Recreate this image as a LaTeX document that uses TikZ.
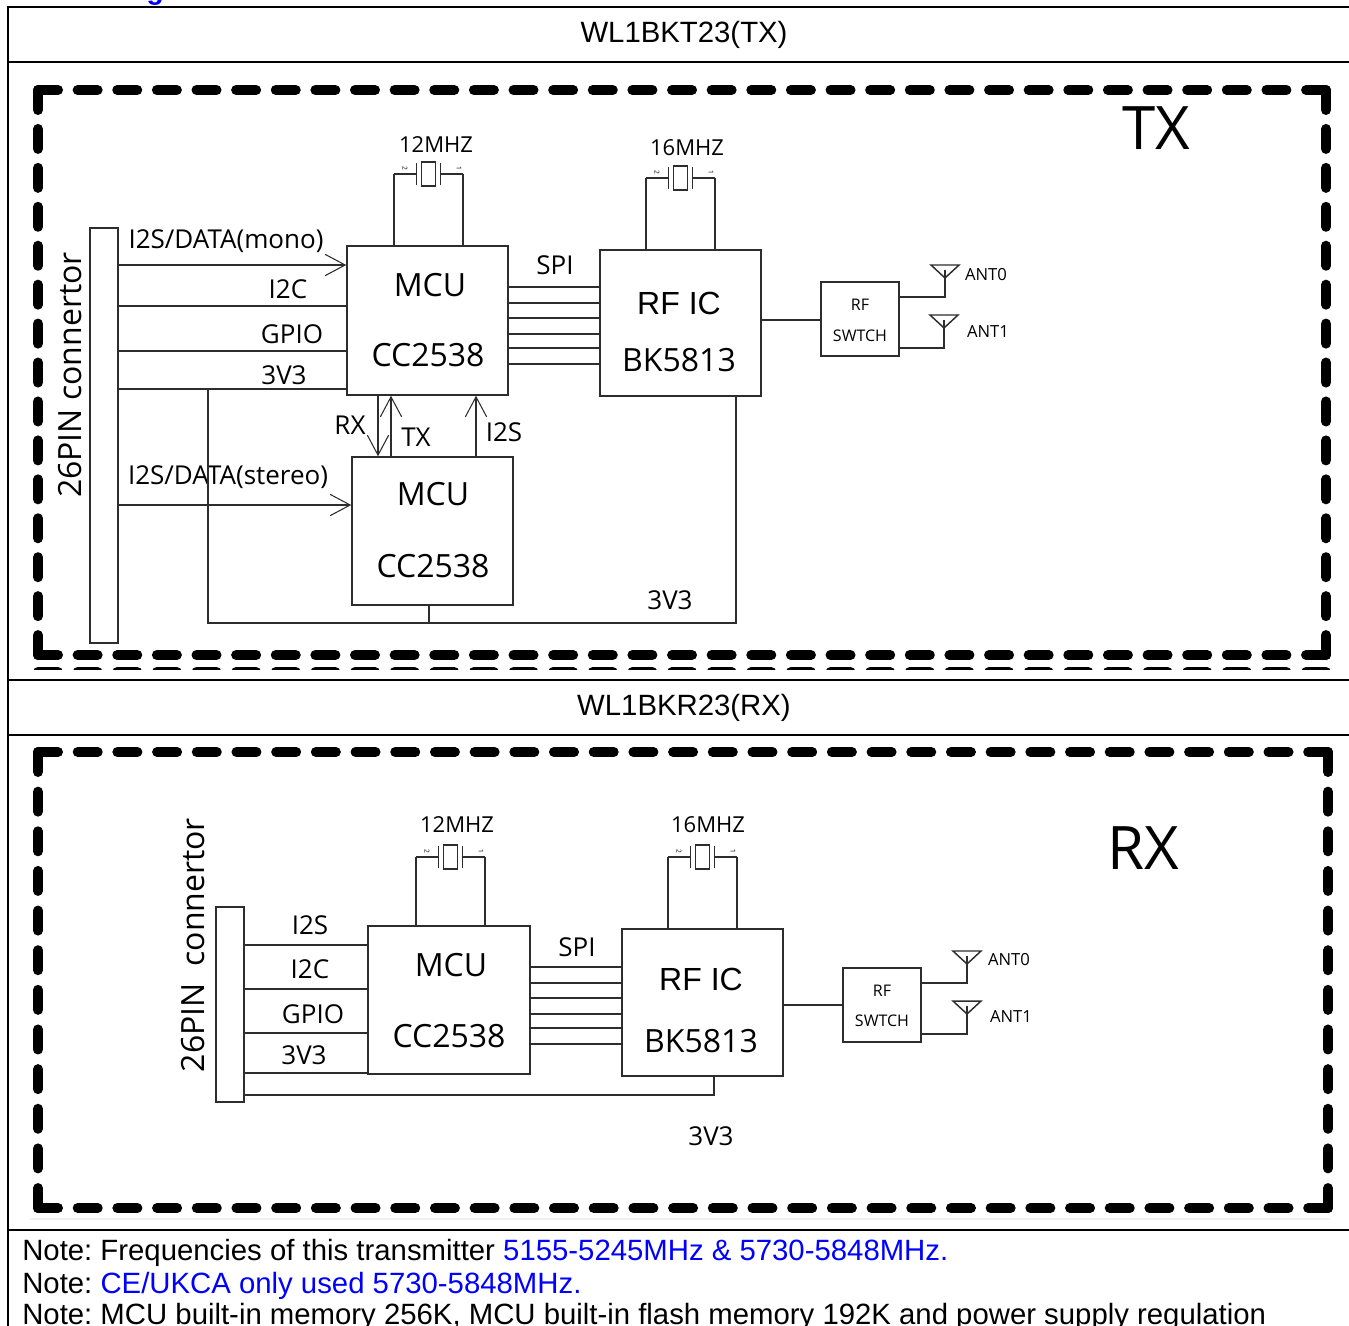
\documentclass[tikz,border=0pt]{standalone}
\usepackage{fontspec}
\setmainfont{Liberation Sans}
\newfontfamily\blkfont{Open Sans}
\usetikzlibrary{arrows.meta,positioning}
\definecolor{noteblue}{RGB}{0,0,255}
\definecolor{wire}{RGB}{45,45,45}
\frenchspacing

\tikzset{
    xtal/.pic={
        \draw[wire line] (-34.5,0) -- (-12,0) (12,0) -- (34.5,0);
        \draw[wire line] (-12,-11) -- (-12,11) (12,-11) -- (12,11);
        \draw[wire line] (-7,-12) rectangle (7,12);
        \node[pinlabel] at (-23.5,-6) {2};
        \node[pinlabel] at (30.5,-6) {1};
        \coordinate (-l) at (-34.5,0);
        \coordinate (-r) at (34.5,0);
    },
    antenna/.pic={
        \draw[wire line, line join=miter] (-14,0) -- (14,0) -- (0,13) -- cycle;
        \draw[wire line] (0,5) -- (0,13);
        \coordinate (-s) at (0,5);
    }
}

\begin{document}
\begin{tikzpicture}[
    x=0.75pt, y=-0.75pt,
    wire line/.style={draw=wire, line width=1.1pt},
    frame/.style={line width=1.6pt},
    dashbox/.style={line width=7.5pt, line cap=round, dash pattern=on 15pt off #1},
    chip/.style={wire line, rectangle, inner sep=0, minimum width=120.75pt, minimum height=#1},
    swbox/.style={wire line, rectangle, inner sep=0, minimum width=58.5pt, minimum height=55.5pt},
    conn/.style={wire line, rectangle, inner sep=0, minimum width=21pt, minimum height=#1},
    sig/.style={wire line, -{Straight Barb[length=15pt, width=16pt, line width=0.8pt]}},
    chiptext/.style={font=\blkfont\fontsize{24pt}{28pt}\selectfont, inner sep=0},
    rftext/.style={font=\fontsize{24pt}{28pt}\selectfont, inner sep=0},
    sigtext/.style={font=\blkfont\fontsize{19.5pt}{22pt}\selectfont, inner sep=0},
    xtaltext/.style={font=\blkfont\fontsize{16.5pt}{19pt}\selectfont, inner sep=0},
    swtext/.style={font=\blkfont\fontsize{12pt}{14pt}\selectfont, inner sep=0},
    anttext/.style={font=\blkfont\fontsize{12.5pt}{14pt}\selectfont, inner sep=0},
    conntext/.style={font=\blkfont\fontsize{24pt}{28pt}\selectfont, inner sep=0, rotate=90},
    bigtext/.style={font=\blkfont\fontsize{45pt}{50pt}\selectfont, inner sep=0},
    pinlabel/.style={font=\blkfont\fontsize{5pt}{6pt}\selectfont, inner sep=0, rotate=-90},
    headtext/.style={font=\fontsize{22pt}{25pt}\selectfont, inner sep=0},
    notetext/.style={font=\fontsize{22pt}{25pt}\selectfont, inner sep=0, anchor=base west}
]
\useasboundingbox (0,0) rectangle (1349,1325);

\node[anchor=base west, inner sep=0, text=noteblue, font=\bfseries\fontsize{21pt}{24pt}\selectfont] (blocktitle) at (22,-1) {Block diagram};

% table frame
\draw[frame] (8,1340) -- (8,7) -- (1360,7);
\foreach \yy in {62,680,735,1230}
    \draw[frame] (8,\yy) -- (1360,\yy);
\node[headtext] (txhead) at (684,35) {WL1BKT23(TX)};
\node[headtext] (rxhead) at (684,708) {WL1BKR23(RX)};

% dashed outlines
\draw[dashbox=14.72pt] (38,90) -- (1326,90);
\draw[dashbox=14.72pt] (38,655) -- (1326,655);
\draw[dashbox=14.2pt] (38,90) -- (38,655);
\draw[dashbox=14.2pt] (1326,90) -- (1326,655);
\begin{scope}
    \clip (0,640) rectangle (1349,669.5);
    \draw[dashbox=14.72pt] (38,672) -- (1326,672);
\end{scope}
\draw[dashbox=14.77pt] (38,752) -- (1328,752);
\draw[dashbox=14.77pt] (38,1208) -- (1328,1208);
\draw[dashbox=14.73pt] (38,752) -- (38,1208);
\draw[dashbox=14.73pt] (1328,752) -- (1328,1208);
\draw[gray!12, line width=2pt] (30,1219) -- (1330,1219);

% TX
\node[bigtext] (txbig) at (1156,128) {TX};
\node[conn=311.25pt] (txconn) at (104,435.5) {};
\node[conntext] (txconnlabel) at (70,375) {26PIN connertor};
\node[chip=111.75pt] (mcua) at (427.5,320.5) {};
\node[chiptext] (mcuaT) at (430,285) {MCU};
\node[chiptext] (mcuaB) at (428,355) {CC2538};
\node[chip=111pt] (mcub) at (432.5,531) {};
\node[chiptext] (mcubT) at (433,494) {MCU};
\node[chiptext] (mcubB) at (433,566) {CC2538};
\node[chip=109.5pt] (rfa) at (680.5,323) {};
\node[rftext] (rfaT) at (679,303) {RF IC};
\node[chiptext] (rfaB) at (679,360) {BK5813};
\node[swbox] (swa) at (860,319) {};
\node[swtext] (swaT) at (860,305) {RF};
\node[swtext] (swaB) at (860,336) {SWTCH};

\pic (x12a) at (428.5,174) {xtal};
\pic (x16a) at (680.5,178) {xtal};
\node[xtaltext] (x12aL) at (436,145) {12MHZ};
\node[xtaltext] (x16aL) at (687,148) {16MHZ};
\draw[wire line] (x12a-l) -- (x12a-l |- mcua.north);
\draw[wire line] (x12a-r) -- (x12a-r |- mcua.north);
\draw[wire line] (x16a-l) -- (x16a-l |- rfa.north);
\draw[wire line] (x16a-r) -- (x16a-r |- rfa.north);

\draw[sig] (txconn.east |- 0,265) -- (mcua.west |- 0,265);
\draw[wire line] (txconn.east |- 0,306) -- (mcua.west |- 0,306);
\draw[wire line] (txconn.east |- 0,351) -- (mcua.west |- 0,351);
\draw[wire line] (txconn.east |- 0,389) -- (mcua.west |- 0,389);
\draw[sig] (txconn.east |- 0,505) -- (mcub.west |- 0,505);
\node[sigtext] (monoL) at (226,241) {I2S/DATA(mono)};
\node[sigtext] (i2caL) at (288,289) {I2C};
\node[sigtext] (gpioaL) at (292,334) {GPIO};
\node[sigtext] (pwraL) at (284,375) {3V3};
\node[sigtext] (stereoL) at (228,477) {I2S/DATA(stereo)};

\draw[sig] (mcua.south -| 378,0) -- (mcub.north -| 378,0);
\draw[sig] (mcub.north -| 391,0) -- (mcua.south -| 391,0);
\draw[sig] (mcub.north -| 476,0) -- (mcua.south -| 476,0);
\node[sigtext] (rxL) at (350,425) {RX};
\node[sigtext] (txL) at (416,437) {TX};
\node[sigtext] (i2sbL) at (504,432) {I2S};

\foreach \yy in {287,303,318,334,348,364}
    \draw[wire line] (mcua.east |- 0,\yy) -- (rfa.west |- 0,\yy);
\node[sigtext] (spiaL) at (555,265) {SPI};

\coordinate (txtap) at (208,389);
\draw[wire line] (txtap) |- (736,623) -- (rfa.south -| 736,0);
\draw[wire line] (mcub.south -| 429,0) -- (429,623);
\node[sigtext] (pwrbL) at (670,600) {3V3};

\draw[wire line] (rfa.east |- 0,320) -- (swa.west |- 0,320);
\pic (ant0a) at (945,265) {antenna};
\pic (ant1a) at (944,315) {antenna};
\draw[wire line] (swa.east |- 0,297) -| (ant0a-s);
\draw[wire line] (swa.east |- 0,348) -| (ant1a-s);
\node[anttext] (ant0aL) at (986,275) {ANT0};
\node[anttext] (ant1aL) at (988,332) {ANT1};

% RX
\node[bigtext] (rxbig) at (1143,848) {RX};
\node[conn=146.25pt] (rxconn) at (230,1004.5) {};
\node[conntext] (rxconnlabel) at (193,945) {26PIN\ \ connertor};
\node[chip=111pt, minimum width=121.5pt] (mcuc) at (449,1000) {};
\node[chiptext] (mcucT) at (451,965) {MCU};
\node[chiptext] (mcucB) at (449,1036) {CC2538};
\node[chip=110.25pt] (rfb) at (702.5,1002.5) {};
\node[rftext] (rfbT) at (701,979) {RF IC};
\node[chiptext] (rfbB) at (701,1041) {BK5813};
\node[swbox] (swb) at (882,1005) {};
\node[swtext] (swbT) at (882,991) {RF};
\node[swtext] (swbB) at (882,1021) {SWTCH};

\pic (x12b) at (450.5,857) {xtal};
\pic (x16b) at (702.5,857) {xtal};
\node[xtaltext] (x12bL) at (457,825) {12MHZ};
\node[xtaltext] (x16bL) at (708,825) {16MHZ};
\draw[wire line] (x12b-l) -- (x12b-l |- mcuc.north);
\draw[wire line] (x12b-r) -- (x12b-r |- mcuc.north);
\draw[wire line] (x16b-l) -- (x16b-l |- rfb.north);
\draw[wire line] (x16b-r) -- (x16b-r |- rfb.north);

\draw[wire line] (rxconn.east |- 0,945) -- (mcuc.west |- 0,945);
\draw[wire line] (rxconn.east |- 0,989) -- (mcuc.west |- 0,989);
\draw[wire line] (rxconn.east |- 0,1033) -- (mcuc.west |- 0,1033);
\draw[wire line] (rxconn.east |- 0,1073) -- (mcuc.west |- 0,1073);
\node[sigtext] (i2scL) at (310,925) {I2S};
\node[sigtext] (i2ccL) at (310,969) {I2C};
\node[sigtext] (gpiocL) at (313,1014) {GPIO};
\node[sigtext] (pwrcL) at (304,1055) {3V3};

\foreach \yy in {967,983,998,1014,1028,1044}
    \draw[wire line] (mcuc.east |- 0,\yy) -- (rfb.west |- 0,\yy);
\node[sigtext] (spibL) at (577,947) {SPI};

\draw[wire line] (rxconn.east |- 0,1095) -| (rfb.south -| 714,0);
\node[sigtext] (pwrdL) at (711,1136) {3V3};

\draw[wire line] (rfb.east |- 0,1005) -- (swb.west |- 0,1005);
\pic (ant0b) at (967,951) {antenna};
\pic (ant1b) at (967,1001) {antenna};
\draw[wire line] (swb.east |- 0,983) -| (ant0b-s);
\draw[wire line] (swb.east |- 0,1034) -| (ant1b-s);
\node[anttext] (ant0bL) at (1009,960) {ANT0};
\node[anttext] (ant1bL) at (1011,1017) {ANT1};

% notes
\node[notetext] (note1) at (22,1260) {Note: Frequencies of this transmitter \textcolor{noteblue}{5155-5245MHz \& 5730-5848MHz.}};
\node[notetext] (note2) at (22,1293) {Note: \textcolor{noteblue}{CE/UKCA only used 5730-5848MHz.}};
\node[notetext] (note3) at (22,1324) {Note: MCU built-in memory 256K, MCU built-in flash memory 192K and power supply regulation};

\end{tikzpicture}
\end{document}
